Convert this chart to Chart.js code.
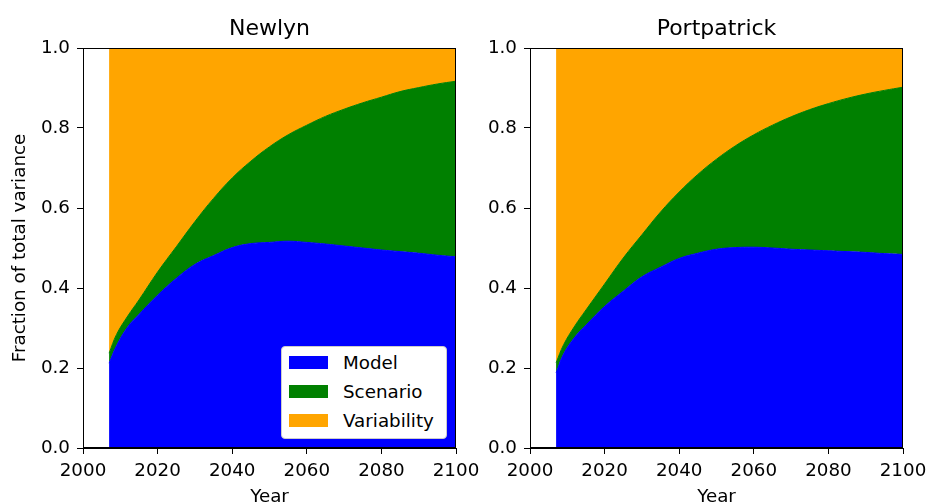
<!DOCTYPE html>
<html lang="en">
<head>
    <meta charset="UTF-8">
    <title>Fraction of total variance</title>
    <script src="https://cdn.jsdelivr.net/npm/chart.js"></script>
    <style>
        body {
            margin: 0;
            background: #fff;
            font-family: "DejaVu Sans", sans-serif;
        }

        .wrap {
            position: relative;
            width: 929px;
            height: 504px;
        }

        /* canvases overlap a little so the last x label of the left panel is not cut */
        #chartNewlyn { position: absolute; left: 0; top: 0; }
        #chartPortpatrick { position: absolute; left: 465px; top: 0; }

        /* legend sits inside the Newlyn panel, lower right */
        .legend {
            position: absolute;
            left: 281px;
            top: 346px;
            width: 164px;
            height: 91px;
            border: 1px solid #cccccc;
            border-radius: 4px;
            background: #ffffff;
        }

        .legend .row {
            position: absolute;
            left: 7px;
            height: 20px;
            display: flex;
            align-items: center;
            font-size: 18.3px;
            color: #000;
        }

        .legend .swatch {
            width: 39px;
            height: 13px;
            margin-right: 15px;
        }
    </style>
</head>
<body>
<div class="wrap">
    <canvas id="chartNewlyn" width="490" height="504"></canvas>
    <canvas id="chartPortpatrick" width="464" height="504"></canvas>
    <div class="legend">
        <div class="row" style="top: 5px;"><div class="swatch" style="background: #0000ff;"></div>Model</div>
        <div class="row" style="top: 34px;"><div class="swatch" style="background: #008000;"></div>Scenario</div>
        <div class="row" style="top: 63px;"><div class="swatch" style="background: #ffa500;"></div>Variability</div>
    </div>
</div>
<script>
    // years
    var years = [2007, 2009, 2012, 2015, 2020, 2025, 2030, 2035, 2040, 2045, 2050, 2055, 2060, 2065, 2070, 2075, 2080, 2085, 2090, 2095, 2100];

    // Newlyn
    var newlynModel = [0.212, 0.256, 0.303, 0.334, 0.382, 0.424, 0.459, 0.481, 0.501, 0.511, 0.514, 0.517, 0.514, 0.510, 0.505, 0.500, 0.495, 0.491, 0.487, 0.482, 0.478];
    var newlynScenario = [0.025, 0.028, 0.027, 0.036, 0.058, 0.079, 0.107, 0.143, 0.174, 0.206, 0.239, 0.266, 0.293, 0.319, 0.342, 0.363, 0.382, 0.400, 0.414, 0.428, 0.439];
    var newlynVariability = [0.763, 0.716, 0.670, 0.630, 0.560, 0.497, 0.434, 0.376, 0.325, 0.283, 0.247, 0.217, 0.193, 0.171, 0.153, 0.137, 0.123, 0.109, 0.099, 0.090, 0.083];

    // Portpatrick
    var portModel = [0.188, 0.235, 0.277, 0.307, 0.354, 0.392, 0.428, 0.452, 0.474, 0.487, 0.497, 0.501, 0.502, 0.500, 0.497, 0.495, 0.493, 0.491, 0.489, 0.486, 0.484];
    var portScenario = [0.025, 0.023, 0.028, 0.038, 0.056, 0.083, 0.105, 0.138, 0.166, 0.197, 0.225, 0.254, 0.281, 0.307, 0.331, 0.351, 0.368, 0.383, 0.396, 0.408, 0.418];
    var portVariability = [0.787, 0.742, 0.695, 0.655, 0.590, 0.525, 0.467, 0.410, 0.360, 0.316, 0.278, 0.245, 0.217, 0.193, 0.172, 0.154, 0.139, 0.126, 0.115, 0.106, 0.098];

    var xTicks = [2000, 2020, 2040, 2060, 2080, 2100];
    var yTicks = [0.0, 0.2, 0.4, 0.6, 0.8, 1.0];

    var FONT = "'DejaVu Sans', sans-serif";

    function toPoints(vals) {
        return years.map(function (y, i) { return { x: y, y: vals[i] }; });
    }

    function series(label, vals, color, fill) {
        return {
            label: label,
            data: toPoints(vals),
            backgroundColor: color,
            borderColor: color,
            borderWidth: 1,
            pointRadius: 0,
            fill: fill,
            tension: 0.4
        };
    }

    // matplotlib-style box around the plot area
    var frame = {
        id: 'frame',
        afterDraw: function (chart) {
            var a = chart.chartArea;
            var ctx = chart.ctx;
            ctx.save();
            ctx.strokeStyle = '#000';
            ctx.lineWidth = 1;
            ctx.strokeRect(Math.round(a.left) + 0.5, Math.round(a.top) + 0.5,
                Math.round(a.right - a.left) - 1, Math.round(a.bottom - a.top) - 1);
            ctx.restore();
        }
    };

    function makeChart(id, title, model, scenario, variability, yAxisWidth, padRight, showYTitle) {
        var ctx = document.getElementById(id).getContext('2d');
        return new Chart(ctx, {
            type: 'line',
            data: {
                datasets: [
                    series('Model', model, '#0000ff', 'origin'),
                    series('Scenario', scenario, '#008000', '-1'),
                    series('Variability', variability, '#ffa500', '-1')
                ]
            },
            options: {
                responsive: false,
                animation: false,
                devicePixelRatio: 1,
                layout: { padding: { left: 0, right: padRight, top: 0, bottom: 0 } },
                plugins: {
                    legend: { display: false },
                    tooltip: { enabled: false }
                },
                scales: {
                    // empty top axis only carries the panel title, centred over the plot
                    top: {
                        type: 'linear',
                        position: 'top',
                        min: 2000,
                        max: 2100,
                        afterFit: function (s) { s.height = 48; s.paddingLeft = 0; s.paddingRight = 0; },
                        ticks: { display: false },
                        grid: { display: false, drawTicks: false },
                        border: { display: false },
                        title: {
                            display: true,
                            text: title,
                            color: '#000',
                            font: { family: FONT, size: 22 },
                            padding: { top: 16, bottom: 0 }
                        }
                    },
                    x: {
                        type: 'linear',
                        min: 2000,
                        max: 2100,
                        // fixed height, and no extra room for the end labels
                        afterFit: function (s) { s.height = 56; s.paddingLeft = 0; s.paddingRight = 0; },
                        afterBuildTicks: function (s) { s.ticks = xTicks.map(function (v) { return { value: v }; }); },
                        ticks: {
                            color: '#000',
                            font: { family: FONT, size: 18.3 },
                            padding: 6,
                            maxRotation: 0,
                            callback: function (v) { return String(v); }
                        },
                        grid: { drawOnChartArea: false, drawTicks: true, tickLength: 6, color: '#000' },
                        border: { display: true, color: '#000' },
                        title: {
                            display: true,
                            text: 'Year',
                            color: '#000',
                            font: { family: FONT, size: 18.3 },
                            padding: { top: 0, bottom: -4 }
                        }
                    },
                    y: {
                        stacked: true,
                        min: 0,
                        max: 1,
                        afterFit: function (s) { s.width = yAxisWidth; s.paddingTop = 0; s.paddingBottom = 0; },
                        afterBuildTicks: function (s) { s.ticks = yTicks.map(function (v) { return { value: v }; }); },
                        ticks: {
                            color: '#000',
                            font: { family: FONT, size: 18.3 },
                            padding: 7,
                            callback: function (v) { return v.toFixed(1); }
                        },
                        grid: { drawOnChartArea: false, drawTicks: true, tickLength: 6, color: '#000' },
                        border: { display: true, color: '#000' },
                        title: {
                            display: showYTitle,
                            text: 'Fraction of total variance',
                            color: '#000',
                            font: { family: FONT, size: 18.3 },
                            padding: { top: 9, bottom: 0 }
                        }
                    }
                }
            },
            plugins: [frame]
        });
    }

    makeChart('chartNewlyn', 'Newlyn', newlynModel, newlynScenario, newlynVariability, 83, 34, true);
    makeChart('chartPortpatrick', 'Portpatrick', portModel, portScenario, portVariability, 65, 26, false);
</script>
</body>
</html>
